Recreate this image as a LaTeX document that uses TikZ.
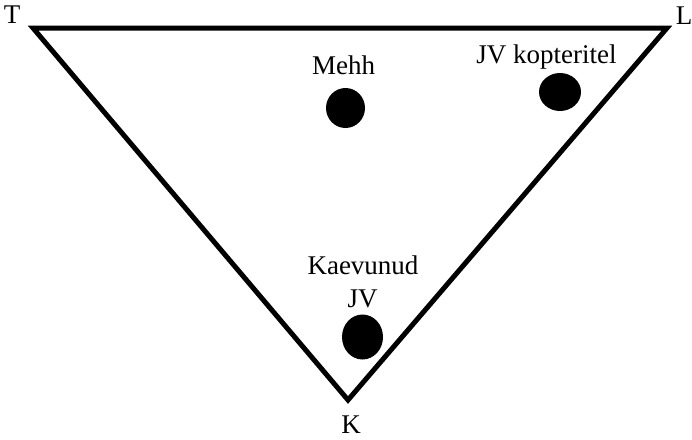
\documentclass[tikz,border=0pt]{standalone}
\usepackage{fontspec}
\setmainfont{Liberation Serif}
\usetikzlibrary{shapes.geometric}
\tikzset{
  lbl/.style={anchor=base, inner sep=0pt, font=\fontsize{27}{31}\selectfont},
  dot/.style={ellipse, fill=black, inner sep=0pt},
  edge/.style={line width=5pt, line join=miter}
}
\begin{document}
\begin{tikzpicture}[x=1pt,y=-1pt]
\useasboundingbox (0,0) rectangle (692,439);
\coordinate (t) at (33,28);
\coordinate (l) at (667,28);
\coordinate (k) at (348,400);
\draw[edge] (t) -- (l) -- (k) -- cycle;
\node[lbl] (T) at (12,23.5) {T};
\node[lbl] (L) at (684,24) {L};
\node[lbl] (K) at (351,433) {K};
\node[lbl] (mehhlbl) at (343.5,74.5) {Mehh};
\node[lbl] (koplbl) at (546.5,63) {JV kopteritel};
\node[lbl] (kaevlbl) at (363,274) {Kaevunud};
\node[lbl] (jvlbl) at (362.5,307.5) {JV};
\node[dot, minimum width=39pt, minimum height=40pt] (mehh) at (345.5,108) {};
\node[dot, minimum width=42pt, minimum height=38pt] (kop) at (560,92) {};
\node[dot, minimum width=41pt, minimum height=45pt] (kaev) at (362.5,337) {};
\end{tikzpicture}
\end{document}
